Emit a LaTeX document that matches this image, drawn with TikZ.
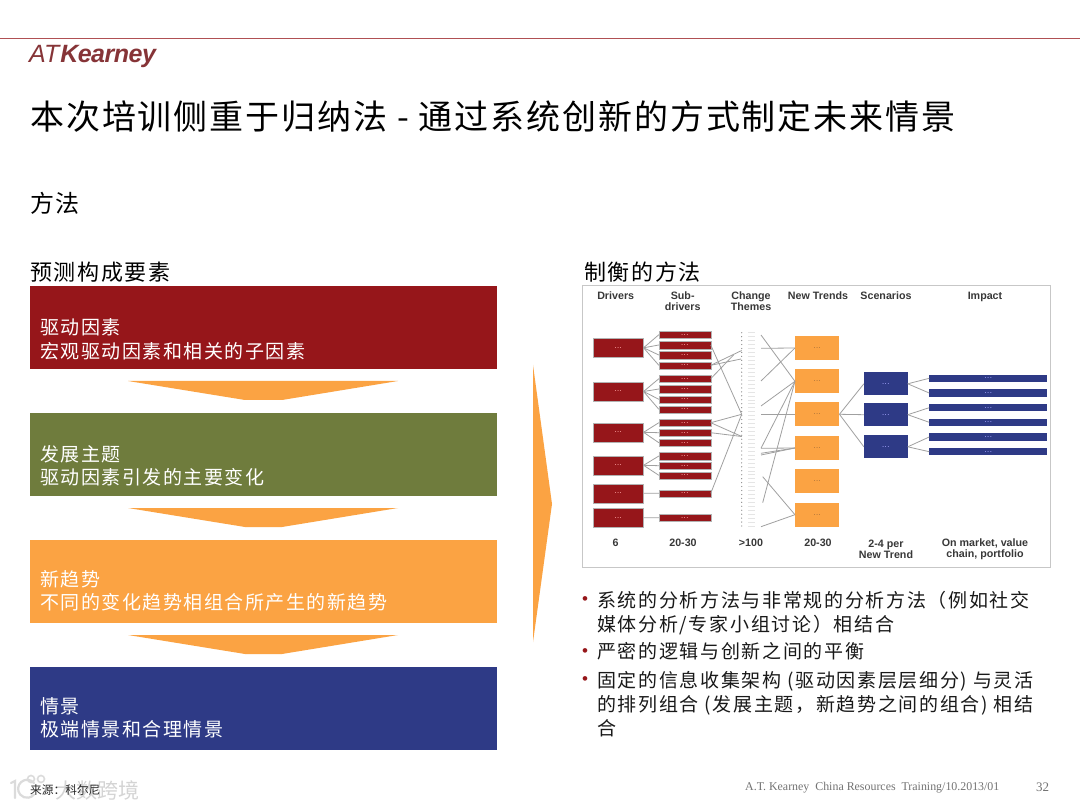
\documentclass[tikz,border=0pt]{standalone}
\usepackage{fontspec}
\setmainfont{Noto Sans CJK SC}
\newfontfamily\latinsans{Liberation Sans}
\newfontfamily\latinserif{Liberation Serif}
\definecolor{kred}{HTML}{96161A}
\definecolor{kolive}{HTML}{6F7C3D}
\definecolor{korange}{HTML}{FBA343}
\definecolor{knavy}{HTML}{2E3A86}
\definecolor{klink}{HTML}{A0A0A0}
\newcommand{\fs}[1]{\fontsize{#1}{#1}\selectfont}
\newcommand{\lsp}[1]{\addfontfeature{LetterSpace=#1}}
\tikzset{
  x=1pt,y=-1pt,
  bigbox/.style={draw=none,inner sep=0pt,minimum width=467pt,minimum height=83pt},
  boxtext/.style={anchor=west,align=left,text=white,inner sep=0pt,font=\fontsize{19}{23.5}\selectfont\lsp{8}},
  heading/.style={anchor=west,inner sep=0pt,text=black},
  bullettext/.style={anchor=north west,align=left,inner sep=0pt,text=black!90,font=\fontsize{19}{24}\selectfont\lsp{8.8}},
  bulletmark/.style={inner sep=0pt,text=kred,font=\latinsans\fs{17}},
  chev/.style={fill=korange,draw=none},
  mini/.style={inner sep=0pt,font=\latinsans\bfseries\fs{6}\lsp{15},draw=white!70!black,line width=.2pt},
  drv/.style={mini,fill=kred,text=white!65!red,minimum width=50.5pt,minimum height=19pt},
  sub/.style={mini,fill=kred,text=white!65!red,minimum width=51.7pt,minimum height=7.3pt},
  trend/.style={mini,fill=korange,text=brown!90!black,minimum width=44.3pt,minimum height=24pt,draw=none},
  scen/.style={mini,fill=knavy,text=white!65!blue,minimum width=43.7pt,minimum height=23.3pt,draw=none},
  imp/.style={mini,fill=knavy,text=white!65!blue,minimum width=118pt,minimum height=7.3pt,draw=none},
  lnk/.style={draw=klink,line width=.8pt},
  minihead/.style={inner sep=0pt,align=center,text=black!78,font=\latinsans\bfseries\fontsize{10.7}{10.8}\selectfont},
  wm/.style={draw=black!14,line width=2.2pt,line cap=round},
}
\begin{document}
\begin{tikzpicture}
\useasboundingbox (0,0) rectangle (1080,810);
\fill[white] (0,0) rectangle (1080,810);
% top rule and logo
\coordinate (ruleL) at (0,38);
\coordinate (ruleR) at (1080,38);
\draw[color=kred!75!white,line width=.9pt] (ruleL) -- (ruleR);
\node[anchor=west,inner sep=0pt,text=kred!75!black!85!white] (logo) at (29,56.5)
  {\latinsans\fs{25}\textit{AT}\hspace{-.5pt}\bfseries\itshape\addfontfeature{LetterSpace=-2}Kearney};
% titles
\node[heading,font=\fs{34}\lsp{5.7}] (title) at (30,117) {本次培训侧重于归纳法 - 通过系统创新的方式制定未来情景};
\node[heading,font=\fs{24}\lsp{4}] (method) at (30,203) {方法};
\node[heading,font=\fs{22}\lsp{7.7}] (lefthead) at (30,272) {预测构成要素};
\node[heading,font=\fs{22}\lsp{7.7}] (righthead) at (584,272) {制衡的方法};
% left boxes
\node[bigbox,fill=kred] (b1) at (263.5,327.5) {};
\node[bigbox,fill=kolive] (b2) at (263.5,454.5) {};
\node[bigbox,fill=korange] (b3) at (263.5,581.5) {};
\node[bigbox,fill=knavy] (b4) at (263.5,708.5) {};
\node[boxtext] (t1) at (40,339.5) {驱动因素\\宏观驱动因素和相关的子因素};
\node[boxtext] (t2) at (40,466) {发展主题\\驱动因素引发的主要变化};
\node[boxtext] (t3) at (40,591) {新趋势\\不同的变化趋势相组合所产生的新趋势};
\node[boxtext] (t4) at (40,718) {情景\\极端情景和合理情景};
% chevrons
\fill[chev] (128,381) -- (398,381) -- (282,400) -- (245,400) -- cycle;
\fill[chev] (128,508) -- (398,508) -- (282,527) -- (245,527) -- cycle;
\fill[chev] (128,635) -- (398,635) -- (282,654) -- (245,654) -- cycle;
\fill[chev] (533,365) -- (552,504) -- (533,642) -- cycle;
% small diagram frame
\draw[draw=black!22,line width=1pt,fill=white] (582.5,285.5) rectangle (1050,567.5);
% headers
\node[minihead] (h1) at (615.7,296) {Drivers};
\node[minihead] (h2) at (682.7,301) {Sub-\\drivers};
\node[minihead] (h3) at (751,301) {Change\\Themes};
\node[minihead] (h4) at (818,296) {New Trends};
\node[minihead] (h5) at (886,296) {Scenarios};
\node[minihead] (h6) at (985,296.5) {Impact};
\node[minihead] (f1) at (615.7,543) {6};
\node[minihead] (f2) at (683,543) {20-30};
\node[minihead] (f3) at (751,543) {>100};
\node[minihead] (f4) at (818,543) {20-30};
\node[minihead] (f5) at (886,549) {2-4 per\\New Trend};
\node[minihead] (f6) at (985,549) {On market, value\\chain, portfolio};
% change themes column
\foreach \i in {0,...,49}{
  \fill[black!45] (741.7,332.7+3.945*\i) circle (.65pt);
  \draw[black!10,line width=.5pt] (748,332.7+3.945*\i) -- (755,332.7+3.945*\i);
}
% free ends at the themes column
\coordinate (la) at (741.7,414.3);
\coordinate (lb) at (741.7,350.5);
\coordinate (lc) at (741,359);
\coordinate (ld) at (733.5,355);
\coordinate (le) at (741.7,436.5);
\coordinate (ra) at (761,335);
\coordinate (rb) at (761,348.3);
\coordinate (rc) at (761,381);
\coordinate (rd) at (761,406);
\coordinate (re) at (761,414.3);
\coordinate (rf) at (761,448.3);
\coordinate (rg) at (761,453.3);
\coordinate (rh) at (761,455);
\coordinate (ri) at (762.7,476.7);
\coordinate (rj) at (762.7,502.7);
\coordinate (rk) at (761,526.7);
% nodes of small diagram
\node[drv] (d1) at (618.2,347.8) {...};
\node[drv] (d2) at (618.2,391.5) {...};
\node[drv] (d3) at (618.2,432.3) {...};
\node[drv] (d4) at (618.2,465.3) {...};
\node[drv] (d5) at (618.2,493.2) {...};
\node[drv] (d6) at (618.2,517.8) {...};
\foreach \n/\c in {1/334.7,2/345,3/355,4/365.3,5/378.7,6/389,7/399.3,8/409.3,9/422.7,10/432.7,11/442.7,12/456,13/465.7,14/475.3,15/493.3,16/517.7}{
  \node[sub] (s\n) at (684.8,\c) {...};
}
\node[trend] (n1) at (817.2,348) {...};
\node[trend] (n2) at (817.2,381.3) {...};
\node[trend] (n3) at (817.2,414.3) {...};
\node[trend] (n4) at (817.2,448) {...};
\node[trend] (n5) at (817.2,481.3) {...};
\node[trend] (n6) at (817.2,514.7) {...};
\node[scen] (c1) at (885.8,383.8) {...};
\node[scen] (c2) at (885.8,414.7) {...};
\node[scen] (c3) at (885.8,446.8) {...};
\foreach \n/\c in {1/378.3,2/393,3/407.7,4/422.3,5/437,6/451.7}{
  \node[imp] (m\n) at (988.3,\c) {...};
}
% connectors
\foreach \a/\b in {d1/s1,d1/s2,d1/s3,d1/s4,d2/s5,d2/s6,d2/s7,d2/s8,d3/s9,d3/s10,d3/s11,d4/s12,d4/s13,d4/s14,d5/s15,d6/s16}{
  \draw[lnk] (\a.east) -- (\b.west);
}
\draw[lnk] (s2.east) -- (la);
\draw[lnk] (s4.east) -- (lb);
\draw[lnk] (s4.east) -- (lc);
\draw[lnk] (s5.east) -- (ld);
\draw[lnk] (s9.east) -- (la);
\draw[lnk] (s9.east) -- (le);
\draw[lnk] (s10.east) -- (le);
\draw[lnk] (s15.east) -- (la);
\draw[lnk] (ra) -- (n2.west);
\draw[lnk] (rb) -- (n1.west);
\draw[lnk] (rc) -- (n1.west);
\draw[lnk] (rd) -- (n2.west);
\draw[lnk] (re) -- (n3.west);
\draw[lnk] (rf) -- (n2.west);
\draw[lnk] (rf) -- (n4.west);
\draw[lnk] (rg) -- (n4.west);
\draw[lnk] (rh) -- (n4.west);
\draw[lnk] (ri) -- (n6.west);
\draw[lnk] (rj) -- (n2.west);
\draw[lnk] (rk) -- (n6.west);
\draw[lnk] (n3.east) -- (c1.west);
\draw[lnk] (n3.east) -- (c2.west);
\draw[lnk] (n3.east) -- (c3.west);
\draw[lnk] (c1.east) -- (m1.west);
\draw[lnk] (c1.east) -- (m2.west);
\draw[lnk] (c2.east) -- (m3.west);
\draw[lnk] (c2.east) -- (m4.west);
\draw[lnk] (c3.east) -- (m5.west);
\draw[lnk] (c3.east) -- (m6.west);
% bullets
\node[bulletmark] (bm1) at (585,601) {•};
\node[bulletmark] (bm2) at (585,653) {•};
\node[bulletmark] (bm3) at (585,681) {•};
\node[bullettext] (bt1) at (597,591.5) {系统的分析方法与非常规的分析方法（例如社交\\媒体分析/专家小组讨论）相结合};
\node[bullettext] (bt2) at (597,642.5) {严密的逻辑与创新之间的平衡};
\node[bullettext] (bt3) at (597,671.5) {固定的信息收集架构 (驱动因素层层细分) 与灵活\\的排列组合 (发展主题，新趋势之间的组合) 相结\\合};
% watermark
\draw[wm] (11,783) -- (15,781) -- (15,798);
\draw[wm] (34,783) arc (40:320:9pt and 9pt);
\draw[wm,line width=1.6pt] (31,779) circle (3.5pt);
\draw[wm,line width=1.6pt] (41,779) circle (3.5pt);
\node[inner sep=0pt,anchor=west,text=black!17,font=\fs{21}] (wmark) at (55,790) {大数跨境};
\node[inner sep=0pt,anchor=west,text=black!85,font=\fs{11.7}] (source) at (30,790) {来源：科尔尼};
% footer
\node[inner sep=0pt,anchor=west,text=black!55,font=\latinserif\fs{11.9}] (foot) at (745,788) {A.T. Kearney\ \ China Resources\ \ Training/10.2013/01};
\node[inner sep=0pt,anchor=west,text=black!55,font=\latinserif\fs{13}] (page) at (1036,787) {32};
\end{tikzpicture}
\end{document}
